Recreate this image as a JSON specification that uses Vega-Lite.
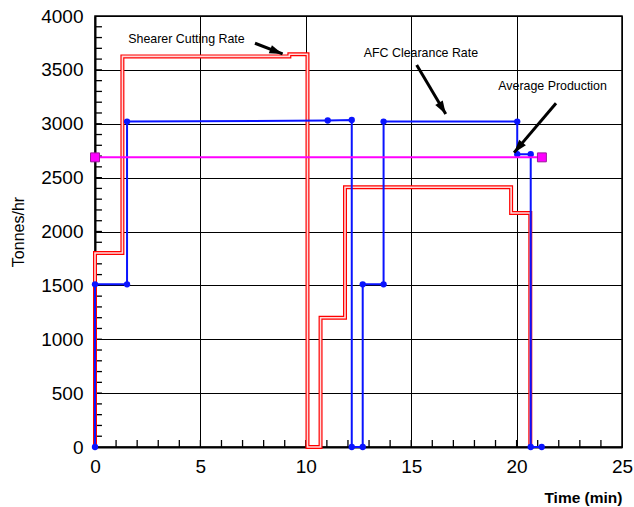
{
  "$schema": "https://vega.github.io/schema/vega-lite/v6.json",
  "autosize": "none",
  "width": 527,
  "height": 431,
  "padding": {"left": 95, "top": 16, "right": 12, "bottom": 60},
  "background": "white",
  "config": {
    "view": {"stroke": "black", "strokeWidth": 1.5},
    "font": "Liberation Sans",
    "axis": {
      "labelFont": "Liberation Sans",
      "titleFont": "Liberation Sans",
      "labelColor": "black",
      "titleColor": "black",
      "domainColor": "black",
      "domainWidth": 2,
      "gridColor": "black",
      "gridWidth": 1,
      "labelOverlap": false,
      "labelFlush": false
    }
  },
  "datasets": {
    "shearer": [
      {"i": 0, "t": 0, "v": 0},
      {"i": 1, "t": 0, "v": 1800},
      {"i": 2, "t": 1.3, "v": 1800},
      {"i": 3, "t": 1.3, "v": 3625},
      {"i": 4, "t": 9.22, "v": 3625},
      {"i": 5, "t": 9.22, "v": 3645},
      {"i": 6, "t": 10.08, "v": 3645},
      {"i": 7, "t": 10.08, "v": 0},
      {"i": 8, "t": 10.7, "v": 0},
      {"i": 9, "t": 10.7, "v": 1200},
      {"i": 10, "t": 11.86, "v": 1200},
      {"i": 11, "t": 11.86, "v": 2410},
      {"i": 12, "t": 19.74, "v": 2410},
      {"i": 13, "t": 19.74, "v": 2172},
      {"i": 14, "t": 20.65, "v": 2172},
      {"i": 15, "t": 20.65, "v": 0}
    ],
    "afc": [
      {"i": 0, "t": 0, "v": 0},
      {"i": 1, "t": 0, "v": 1510},
      {"i": 2, "t": 1.52, "v": 1510},
      {"i": 3, "t": 1.52, "v": 3020},
      {"i": 4, "t": 11.04, "v": 3030},
      {"i": 5, "t": 12.18, "v": 3035},
      {"i": 6, "t": 12.18, "v": 0},
      {"i": 7, "t": 12.7, "v": 0},
      {"i": 8, "t": 12.7, "v": 1510},
      {"i": 9, "t": 13.69, "v": 1510},
      {"i": 10, "t": 13.69, "v": 3020},
      {"i": 11, "t": 20.03, "v": 3020},
      {"i": 12, "t": 20.03, "v": 2718},
      {"i": 13, "t": 20.67, "v": 2718},
      {"i": 14, "t": 20.67, "v": 0},
      {"i": 15, "t": 21.19, "v": 0}
    ],
    "avg": [
      {"i": 0, "t": 0, "v": 2688},
      {"i": 1, "t": 21.2, "v": 2688}
    ],
    "arrows": [
      {"name": "shearer", "t": 7.59, "v": 3747, "t2": 8.9, "v2": 3648},
      {"name": "afc", "t": 15.26, "v": 3545, "t2": 16.64, "v2": 3090},
      {"name": "avg", "t": 21.87, "v": 3190, "t2": 19.88, "v2": 2732}
    ],
    "notes": [
      {"label": "Shearer Cutting Rate", "t": 1.58, "v": 3790},
      {"label": "AFC Clearance Rate", "t": 12.75, "v": 3660},
      {"label": "Average Production", "t": 19.13, "v": 3350}
    ],
    "xticks": [
      {"t": 1}, {"t": 2}, {"t": 3}, {"t": 4}, {"t": 5}, {"t": 6}, {"t": 7}, {"t": 8}, {"t": 9}, {"t": 10},
      {"t": 11}, {"t": 12}, {"t": 13}, {"t": 14}, {"t": 15}, {"t": 16}, {"t": 17}, {"t": 18}, {"t": 19}, {"t": 20},
      {"t": 21}, {"t": 22}, {"t": 23}, {"t": 24}
    ],
    "yticks": [
      {"v": 100}, {"v": 200}, {"v": 300}, {"v": 400}, {"v": 500}, {"v": 600}, {"v": 700}, {"v": 800}, {"v": 900}, {"v": 1000},
      {"v": 1100}, {"v": 1200}, {"v": 1300}, {"v": 1400}, {"v": 1500}, {"v": 1600}, {"v": 1700}, {"v": 1800}, {"v": 1900}, {"v": 2000},
      {"v": 2100}, {"v": 2200}, {"v": 2300}, {"v": 2400}, {"v": 2500}, {"v": 2600}, {"v": 2700}, {"v": 2800}, {"v": 2900}, {"v": 3000},
      {"v": 3100}, {"v": 3200}, {"v": 3300}, {"v": 3400}, {"v": 3500}, {"v": 3600}, {"v": 3700}, {"v": 3800}, {"v": 3900}
    ]
  },
  "layer": [
    {
      "data": {"name": "yticks"},
      "mark": {"type": "rule", "color": "black", "strokeWidth": 1.3, "opacity": 1},
      "encoding": {
        "x": {
          "datum": 0, "type": "quantitative",
          "scale": {"domain": [0, 25], "nice": false, "zero": false},
          "axis": {
            "title": "Time (min)",
            "titleFontWeight": "bold",
            "titleFontSize": 15.5,
            "titleAnchor": "end",
            "titlePadding": 14,
            "values": [0,5,10,15,20,25],
            "ticks": false,
            "format": "d",
            "labelFontSize": 19,
            "labelPadding": 10,
            "grid": true
          }
        },
        "x2": {"datum": 0.33},
        "y": {
          "field": "v", "type": "quantitative",
          "scale": {"domain": [0, 4000], "nice": false},
          "axis": {
            "title": "Tonnes/hr",
            "titleFontWeight": "normal",
            "titleFontSize": 16,
            "titlePadding": 14,
            "values": [0,500,1000,1500,2000,2500,3000,3500,4000],
            "ticks": false,
            "format": "d",
            "labelFontSize": 19,
            "labelPadding": 12,
            "grid": true
          }
        }
      }
    },
    {
      "data": {"name": "xticks"},
      "mark": {"type": "rule", "color": "black", "strokeWidth": 1.3, "opacity": 1},
      "encoding": {
        "x": {"field": "t", "type": "quantitative"},
        "y": {"datum": 0, "type": "quantitative"},
        "y2": {"datum": 65}
      }
    },
    {
      "data": {"name": "shearer"},
      "mark": {"type": "line", "color": "#ff0000", "strokeWidth": 4, "interpolate": "linear"},
      "encoding": {
        "x": {"field": "t", "type": "quantitative"},
        "y": {"field": "v", "type": "quantitative"},
        "order": {"field": "i", "type": "quantitative"}
      }
    },
    {
      "data": {"name": "shearer"},
      "mark": {"type": "line", "color": "#ffdada", "strokeWidth": 1.6},
      "encoding": {
        "x": {"field": "t", "type": "quantitative"},
        "y": {"field": "v", "type": "quantitative"},
        "order": {"field": "i", "type": "quantitative"}
      }
    },
    {
      "data": {"name": "afc"},
      "mark": {"type": "line", "color": "#0a14ff", "strokeWidth": 2, "point": {"filled": true, "size": 40, "color": "#0a14ff", "opacity": 1}},
      "encoding": {
        "x": {"field": "t", "type": "quantitative"},
        "y": {"field": "v", "type": "quantitative"},
        "order": {"field": "i", "type": "quantitative"}
      }
    },
    {
      "data": {"name": "avg"},
      "mark": {"type": "line", "color": "#ff00ff", "strokeWidth": 2},
      "encoding": {
        "x": {"field": "t", "type": "quantitative"},
        "y": {"field": "v", "type": "quantitative"},
        "order": {"field": "i", "type": "quantitative"}
      }
    },
    {
      "data": {"name": "avg"},
      "mark": {"type": "square", "filled": true, "color": "#ff00ff", "stroke": "#9a1a9a", "strokeWidth": 1, "size": 80, "opacity": 1},
      "encoding": {
        "x": {"field": "t", "type": "quantitative"},
        "y": {"field": "v", "type": "quantitative"}
      }
    },
    {
      "data": {"name": "arrows"},
      "mark": {"type": "rule", "color": "black", "strokeWidth": 3},
      "encoding": {
        "x": {"field": "t", "type": "quantitative"},
        "y": {"field": "v", "type": "quantitative"},
        "x2": {"field": "t2"},
        "y2": {"field": "v2"}
      }
    },
    {
      "data": {"name": "arrows"},
      "transform": [{"filter": "datum.name === 'shearer'"}],
      "mark": {"type": "point", "shape": "M0,0L-0.8,2.4L0.8,2.4Z", "filled": true, "color": "black", "size": 120, "opacity": 1, "angle": 111},
      "encoding": {
        "x": {"field": "t2", "type": "quantitative"},
        "y": {"field": "v2", "type": "quantitative"}
      }
    },
    {
      "data": {"name": "arrows"},
      "transform": [{"filter": "datum.name === 'afc'"}],
      "mark": {"type": "point", "shape": "M0,0L-0.8,2.4L0.8,2.4Z", "filled": true, "color": "black", "size": 120, "opacity": 1, "angle": 149},
      "encoding": {
        "x": {"field": "t2", "type": "quantitative"},
        "y": {"field": "v2", "type": "quantitative"}
      }
    },
    {
      "data": {"name": "arrows"},
      "transform": [{"filter": "datum.name === 'avg'"}],
      "mark": {"type": "point", "shape": "M0,0L-0.8,2.4L0.8,2.4Z", "filled": true, "color": "black", "size": 120, "opacity": 1, "angle": 220},
      "encoding": {
        "x": {"field": "t2", "type": "quantitative"},
        "y": {"field": "v2", "type": "quantitative"}
      }
    },
    {
      "data": {"name": "notes"},
      "mark": {"type": "text", "align": "left", "baseline": "middle", "fontSize": 12.4, "color": "black", "font": "Liberation Sans"},
      "encoding": {
        "x": {"field": "t", "type": "quantitative"},
        "y": {"field": "v", "type": "quantitative"},
        "text": {"field": "label"}
      }
    }
  ]
}
